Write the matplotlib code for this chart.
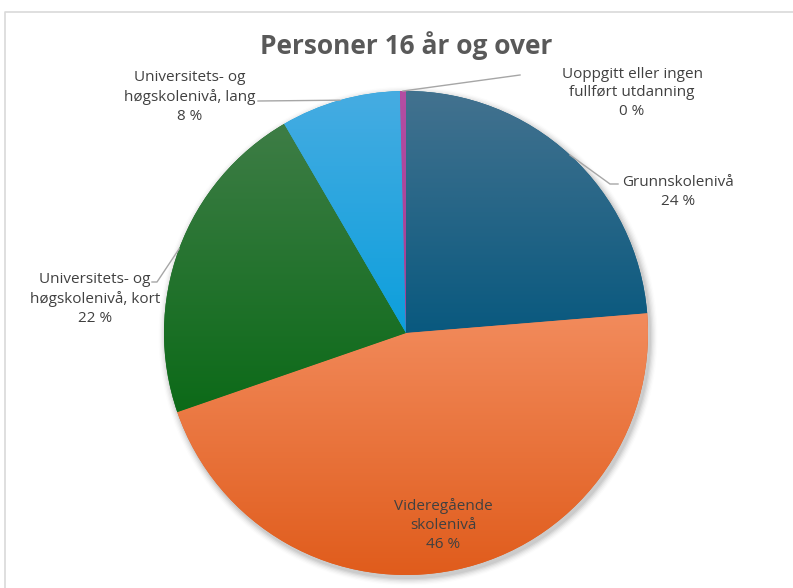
import matplotlib
matplotlib.use('Agg')
import matplotlib.pyplot as plt
import numpy as np
from matplotlib.colors import to_rgb

categories = ["Grunnskolenivå", "Videregående skolenivå",
              "Universitets- og høgskolenivå, kort",
              "Universitets- og høgskolenivå, lang",
              "Uoppgitt eller ingen fullført utdanning"]
values = [23.7, 46.0, 21.9, 8.0, 0.4]
pct_labels = ["24 %", "46 %", "22 %", "8 %", "0 %"]
label_text = ["Grunnskolenivå", "Videregående\nskolenivå",
              "Universitets- og\nhøgskolenivå, kort",
              "Universitets- og\nhøgskolenivå, lang",
              "Uoppgitt eller ingen\nfullført utdanning"]
top_colors = ["#43728f", "#f28b5c", "#3e7d46", "#46ace2", "#b44ea3"]
bottom_colors = ["#09597f", "#e05c1c", "#0c6a18", "#0c9fdc", "#a43c92"]

plt.rcParams['font.family'] = ['Open Sans', 'DejaVu Sans']

W, H = 793, 588
fig = plt.figure(figsize=(7.93, 5.88), dpi=100)
ax = fig.add_axes([0, 0, 1, 1])

cx, cy, r = 406, H - 333, 242

# soft shadow
for i, a in enumerate(np.linspace(0.06, 0.012, 6)):
    sh = plt.Circle((cx + 2, cy - 3), r + 1 + i * 1.3, color='black', alpha=a, lw=0, zorder=0)
    ax.add_patch(sh)

wedges, _ = ax.pie(values, startangle=90, counterclock=False, center=(cx, cy),
                   radius=r, frame=True,
                   colors=bottom_colors, wedgeprops=dict(linewidth=0))

for w, tc, bc in zip(wedges, top_colors, bottom_colors):
    bb = w.get_path().get_extents()
    t = np.array(to_rgb(tc)); b = np.array(to_rgb(bc))
    f = np.linspace(0, 1, 256)[:, None]
    grad = (t[None, :] * (1 - f) + b[None, :] * f)[:, None, :]
    im = ax.imshow(grad, extent=(bb.x0, bb.x1, bb.y0, bb.y1), origin='upper',
                   aspect='auto', zorder=2, interpolation='bilinear')
    im.set_clip_path(w)

ax.set_xlim(0, W)
ax.set_ylim(0, H)
ax.set_aspect('auto')
ax.axis('off')

# chart area border
ax.plot([5, 5, W], [0, H - 12, H - 12], color='#d9d9d9', lw=1.2, zorder=1,
        solid_capstyle='butt')

ax.text(cx, H - 46, "Personer 16 år og over", ha='center', va='center',
        fontsize=19, fontweight='bold', color='#595959')

txt_color = '#404040'
lc = '#a6a6a6'
fs = 11
ls = 1.33

def anchor(i):
    th1, th2 = wedges[i].theta1, wedges[i].theta2
    m = np.deg2rad((th1 + th2) / 2)
    return cx + r * np.cos(m), cy + r * np.sin(m)

# Grunnskolenivå
ax0 = anchor(0)
ax.plot([ax0[0], 610, 618], [ax0[1], H - 184, H - 184], color=lc, lw=1, zorder=3)
ax.text(678, H - 192, label_text[0] + "\n" + pct_labels[0], ha='center', va='center',
        fontsize=fs, color=txt_color, linespacing=ls)

# Videregående (inside)
ax.text(443, H - 525, label_text[1] + "\n" + pct_labels[1], ha='center', va='center',
        fontsize=fs, color=txt_color, linespacing=ls, zorder=4)

# kort
a2 = anchor(2)
ax.plot([a2[0], 157, 152], [a2[1], H - 282, H - 282], color=lc, lw=1, zorder=3)
ax.text(95, H - 299, label_text[2] + "\n" + pct_labels[2], ha='center', va='center',
        fontsize=fs, color=txt_color, linespacing=ls)

# lang
a3 = anchor(3)
ax.plot([a3[0], 258], [a3[1], H - 101], color=lc, lw=1, zorder=3)
ax.text(190, H - 97, label_text[3] + "\n" + pct_labels[3], ha='center', va='center',
        fontsize=fs, color=txt_color, linespacing=ls)

# uoppgitt
a4 = anchor(4)
ax.plot([a4[0], 520], [a4[1], H - 75], color=lc, lw=1, zorder=3)
ax.text(632, H - 93, label_text[4] + "\n" + pct_labels[4], ha='center', va='center',
        fontsize=fs, color=txt_color, linespacing=ls)

fig.savefig('out.png', dpi=100)
